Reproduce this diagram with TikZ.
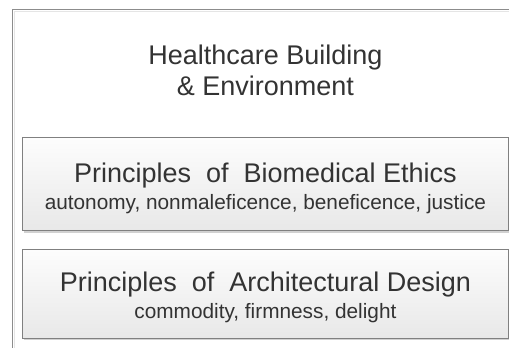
\documentclass[tikz,border=0pt]{standalone}
\usepackage{fontspec}
\setmainfont{Liberation Sans}
\usetikzlibrary{positioning, shadows}
\definecolor{FrameGray}{HTML}{8C8C8C}
\definecolor{BoxEdge}{HTML}{808080}
\definecolor{TextGray}{HTML}{333333}
\definecolor{BoxTop}{HTML}{FDFDFD}
\definecolor{BoxBottom}{HTML}{E8E8E8}
\tikzset{
    % Heading on top of the frame
    heading/.style={
        align=center,
        inner sep=0pt,
        text=TextGray,
        font=\fontsize{20.25}{23.25}\selectfont
    },
    % Principle box
    principle/.style={
        rectangle,
        draw=BoxEdge,
        line width=0.8pt,
        top color=BoxTop,
        bottom color=BoxBottom,
        minimum width=364.5pt,
        inner sep=0pt,
        drop shadow={shadow xshift=1pt, shadow yshift=-1.8pt, fill=black!18, opacity=1}
    },
    % Text inside a principle box
    principletext/.style={
        align=center,
        inner sep=0pt,
        text=TextGray,
        font=\fontsize{20.25}{20}\selectfont
    }
}
\newcommand{\subline}[1]{{\fontsize{15.6}{20}\selectfont #1}}

\begin{document}
\begin{tikzpicture}[x=0.75pt, y=-0.75pt]
    \useasboundingbox (0,0) rectangle (509,347);
    \clip (0,0) rectangle (509,347);

    % Frame, open to the right and below
    \draw[FrameGray, line width=1.1pt] (12.5,9.5) rectangle (540,380);
    \draw[black!10, line width=0.8pt] (14.8,11.8) rectangle (540,380);

    % Heading
    \node (title) [heading] at (265.4,70.5) {Healthcare Building\\\& Environment};

    % Boxes
    \node (ethics) [principle, minimum height=69.75pt] at (265.4,183.8) {};
    \node (design) [principle, minimum height=66.5pt, below=13.5pt of ethics] {};

    % Labels
    \node (ethicsText) [principletext] at ([yshift=-3.6pt]ethics.center) {
        Principles\ \ of\ \ Biomedical Ethics\\
        \subline{autonomy, nonmaleficence, beneficence, justice}
    };
    \node (designText) [principletext] at ([yshift=-2.5pt]design.center) {
        Principles\ \ of\ \ Architectural Design\\
        \subline{commodity, firmness, delight}
    };
\end{tikzpicture}
\end{document}
